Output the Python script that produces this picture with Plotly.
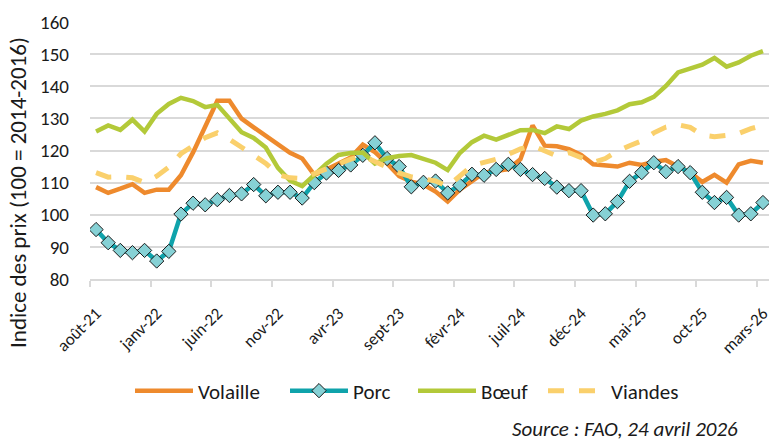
import plotly.graph_objects as go

# Monthly categories: août-21 .. mars-26
month_abbr = ["janv", "févr", "mars", "avr", "mai", "juin",
              "juil", "août", "sept", "oct", "nov", "déc"]
months = []
y, m = 2021, 8
while (y, m) <= (2026, 3):
    months.append(f"{month_abbr[m-1]}-{str(y)[2:]}")
    m += 1
    if m > 12:
        m, y = 1, y + 1

volaille = [108.6, 106.8, 108.1, 109.5, 106.8, 107.8, 107.8, 112.3, 119.4, 127.5,
            135.5, 135.5, 129.9, 127.2, 124.6, 122.0, 119.3, 117.5, 112.4, 114.1,
            115.9, 117.8, 121.8, 119.5, 116.0, 112.0, 110.3, 109.4, 107.2, 104.1,
            107.8, 110.5, 113.1, 113.6, 114.2, 117.3, 127.8, 121.5, 121.3, 120.4,
            118.6, 115.7, 115.2, 115.0, 116.2, 115.5, 116.5, 117.0, 115.0, 113.2,
            110.2, 112.4, 110.0, 115.7, 116.8, 116.2]

porc = [95.4, 91.3, 88.9, 88.2, 88.9, 85.6, 88.6, 100.2, 103.6, 103.1,
        104.7, 106.0, 106.5, 109.4, 105.9, 107.0, 107.0, 105.2, 110.0, 113.0,
        113.8, 115.5, 118.5, 122.4, 117.5, 115.0, 108.7, 110.1, 110.5, 106.8,
        109.2, 112.6, 112.3, 114.1, 115.7, 114.1, 112.5, 111.3, 108.6, 107.5,
        107.5, 99.9, 100.3, 104.1, 110.4, 113.1, 116.2, 113.4, 115.0, 113.1,
        107.0, 103.8, 105.4, 99.9, 100.3, 103.8]

boeuf = [125.9, 127.8, 126.4, 129.6, 125.9, 131.4, 134.5, 136.4, 135.4, 133.5,
         134.2, 130.2, 125.7, 123.9, 120.9, 114.6, 110.6, 108.9, 112.5, 115.9,
         118.6, 119.2, 119.4, 115.9, 117.6, 118.3, 118.6, 117.3, 116.2, 113.9,
         119.2, 122.6, 124.6, 123.4, 125.0, 126.3, 126.4, 125.4, 127.5, 126.7,
         129.3, 130.6, 131.4, 132.5, 134.4, 135.0, 136.7, 140.1, 144.3, 145.6,
         146.7, 148.8, 146.1, 147.4, 149.5, 150.9]

viandes = [113.1, 111.7, 111.8, 111.5, 110.0, 112.0, 114.8, 119.0, 121.5, 124.0,
           125.5, 123.5, 121.0, 118.5, 116.0, 112.5, 111.5, 111.3, 112.8, 114.5,
           115.7, 117.3, 118.3, 116.5, 114.5, 113.0, 111.8, 111.2, 110.5, 108.8,
           112.3, 115.3, 116.3, 117.3, 118.8, 120.5, 121.5, 120.0, 118.3, 119.3,
           118.0, 116.3, 117.5, 119.8, 121.5, 123.0, 125.5, 127.3, 128.0, 127.2,
           124.8, 124.3, 124.7, 125.3, 126.8, 127.8]

y_ticks = [80, 90, 100, 110, 120, 130, 140, 150, 160]
label_step = 5

x = list(range(len(months)))
tick_idx = list(range(0, len(months), label_step))
tick_text = [months[i] for i in tick_idx]
boundary_ticks = [i - 0.5 for i in tick_idx]

FONT = "Calibri, Carlito, Lato, sans-serif"
TXT = "#1a1a1a"

fig = go.Figure()
fig.add_trace(go.Scatter(x=x, y=volaille, name="Volaille", mode="lines",
                         line=dict(color="#EE8A2D", width=4.5), legend="legend"))
fig.add_trace(go.Scatter(x=x, y=porc, name="Porc", mode="lines+markers",
                         line=dict(color="#0FA3AB", width=4.5),
                         marker=dict(symbol="diamond", size=11, color="#86D1D5",
                                     line=dict(color="#1a1a1a", width=1)),
                         legend="legend2"))
fig.add_trace(go.Scatter(x=x, y=boeuf, name="Bœuf", mode="lines",
                         line=dict(color="#B3C939", width=4.5), legend="legend3"))
fig.add_trace(go.Scatter(x=x, y=viandes, name="Viandes", mode="lines",
                         line=dict(color="#FAD06C", width=5, dash="16px,15px"),
                         legend="legend4"))

L, W, T, H = 90, 679, 22, 257


def px_x(p):
    return (p - L) / W


def px_y(p):
    return (T + H - p) / H


def leg(xpix):
    return dict(orientation="h", x=px_x(xpix), xanchor="left", y=px_y(391),
                yanchor="middle", font=dict(size=21, color=TXT), itemwidth=58,
                bgcolor="rgba(0,0,0,0)", borderwidth=0)


fig.update_layout(
    width=769, height=441,
    margin=dict(l=L, r=769 - L - W, t=T, b=441 - T - H),
    paper_bgcolor="white", plot_bgcolor="white",
    font=dict(family=FONT, size=18, color=TXT),
    showlegend=True,
    legend=leg(130), legend2=leg(285), legend3=leg(413), legend4=leg(543),
    xaxis=dict(range=[-0.5, len(months) - 0.5], tickmode="array", tickvals=tick_idx,
               ticktext=tick_text, tickangle=-45, ticks="", showgrid=False,
               showline=True, linecolor="#d9d9d9", linewidth=1.5, zeroline=False,
               automargin=False, ticklabelstandoff=16, ticklabeloverflow="allow",
               tickfont=dict(size=17, color=TXT),
               minor=dict(tickmode="array", tickvals=boundary_ticks, ticks="outside",
                          ticklen=6, tickcolor="#d9d9d9", tickwidth=1.5, showgrid=False)),
    yaxis=dict(range=[80, 160], tickmode="array", tickvals=y_ticks, ticks="",
               showgrid=True, gridcolor="#d9d9d9", gridwidth=1.5, zeroline=False,
               showline=False, automargin=False, tickfont=dict(size=19, color=TXT),
               ticklabelstandoff=20),
)

fig.add_annotation(text="Indice des prix (100 = 2014-2016)", textangle=-90,
                   xref="paper", yref="paper", x=px_x(18), y=px_y(193),
                   xanchor="center", yanchor="middle", showarrow=False,
                   font=dict(size=23, color=TXT))

fig.add_annotation(text="<i>Source : FAO, 24 avril 2026</i>", xref="paper", yref="paper",
                   x=px_x(740), y=px_y(429), xanchor="right", yanchor="middle",
                   showarrow=False, font=dict(size=21, color=TXT))

fig.write_html("out.html", config={"displayModeBar": False},
               post_script="document.body.style.margin='0';"
               "document.body.style.overflow='hidden';")
